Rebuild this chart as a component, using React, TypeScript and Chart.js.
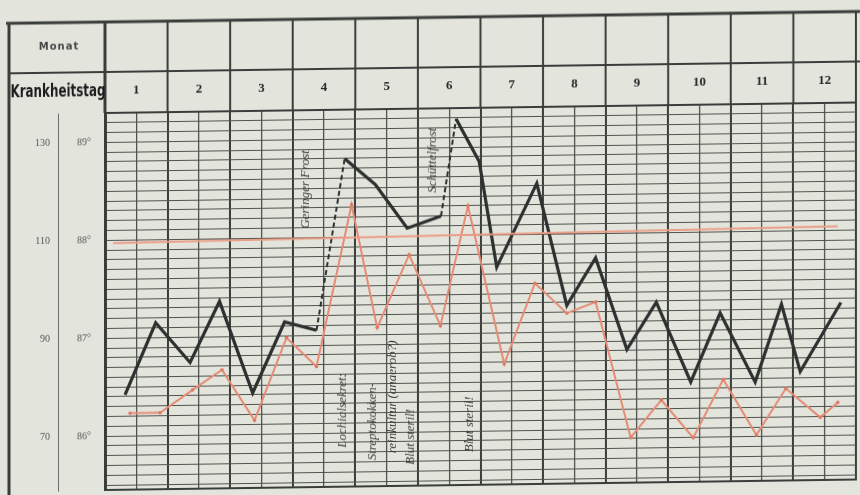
import React, { useEffect, useRef } from 'react';
import { Chart, registerables } from 'chart.js';

Chart.register(...registerables);

// ---------- data ----------
const DAYS = ['1', '2', '3', '4', '5', '6', '7', '8', '9', '10', '11', '12'];
const TEMP_LABEL_VALUES = [86, 87, 88, 89];
const PULSE_TICKS = [70, 90, 110, 130];
const TEMP_MIN = 85.45;
const TEMP_MAX = 89.3;
const PULSE_MIN = 59;
const PULSE_MAX = 136;

// temperature curve (black): time in days, value in degrees
const TEMP_DAY = [0.32, 0.81, 1.36, 1.83, 2.36, 2.87, 3.38, 3.83, 4.32, 4.83, 5.37, 5.61, 5.98, 6.26, 6.9, 7.38, 7.84, 8.34, 8.81, 9.36, 9.83, 10.39, 10.81, 11.11, 11.76];
const TEMP_VAL = [86.42, 87.15, 86.74, 87.36, 86.42, 87.14, 87.05, 88.8, 88.53, 88.08, 88.2, 89.19, 88.75, 87.67, 88.52, 87.27, 87.75, 86.81, 87.29, 86.47, 87.17, 86.46, 87.25, 86.56, 87.26];
const TEMP_DASHED_AFTER = [6, 10];

// pulse curve (red): time in days, beats per minute
const PULSE_DAY = [0.4, 0.88, 1.4, 1.87, 2.39, 2.9, 3.38, 3.94, 4.35, 4.86, 5.36, 5.8, 6.38, 6.87, 7.38, 7.84, 8.4, 8.89, 9.4, 9.88, 10.41, 10.88, 11.43, 11.71];
const PULSE_VAL = [74.6, 74.6, 79.2, 83.2, 72.8, 89.6, 83.6, 116.6, 91.4, 106.2, 91.6, 116, 83.6, 100, 93.8, 96, 68.2, 75.8, 68, 79.8, 68.4, 77.8, 71.8, 74.8];

// red reference line
const REF_DAY = [0.13, 11.71];
const REF_VAL = [87.97, 88.04];

// handwritten notes (rotated), anchored in data units
const NOTE_TEXT = ['Geringer Frost', 'Schüttelfrost', 'Lochialsekret:', 'Streptokokken-', 'reinkultur (anaerob?)', 'Blut steril!', 'Blut steril!'];
const NOTE_DAY = [3.2, 5.23, 3.79, 4.27, 4.59, 4.89, 5.82];
const NOTE_TEMP = [88.49, 88.77, 86.23, 86.11, 86.36, 85.95, 86.07];

// ---------- styles ----------
const PAPER = '#e3e5dd';
const INK = '#3a3e3b';
const INK2 = '#4f534f';
const BLACK = '#2c302e';
const RED = '#e58b74';
const REDREF = '#eb9e88';

const GRID_DAYS = Array.from({ length: 25 }, (_, i) => i * 0.5);
const GRID_TEMPS = Array.from({ length: 39 }, (_, i) => Math.round((85.5 + i * 0.1) * 10) / 10);

const framePlugin = {
  id: 'frame',
  beforeDraw(chart: any) {
    const { ctx, width, height } = chart;
    ctx.save();
    ctx.fillStyle = PAPER;
    ctx.fillRect(0, 0, width, height);
    ctx.restore();
  },
  beforeDatasetsDraw(chart: any) {
    const { ctx } = chart;
    const xs = chart.scales.x;
    const ys = chart.scales.y;
    ctx.save();
    ctx.fillStyle = '#3b3b3b';
    ctx.font = 'italic 13px "Liberation Serif"';
    ctx.textAlign = 'center';
    ctx.textBaseline = 'middle';
    NOTE_TEXT.forEach((t, i) => {
      const px = xs.getPixelForValue(NOTE_DAY[i]);
      const py = ys.getPixelForValue(NOTE_TEMP[i]);
      ctx.save();
      ctx.translate(px, py);
      ctx.rotate(-Math.PI / 2);
      ctx.fillText(t, 0, 0);
      ctx.restore();
    });
    ctx.restore();
  },
  afterDraw(chart: any) {
    const { ctx, width, height, chartArea } = chart;
    const xs = chart.scales.x;
    const top = 22;
    const mid = 72;
    const left = 9;
    const line = (x1: number, y1: number, x2: number, y2: number) => {
      ctx.beginPath();
      ctx.moveTo(x1, y1);
      ctx.lineTo(x2, y2);
      ctx.stroke();
    };
    ctx.save();
    ctx.strokeStyle = INK;
    ctx.lineWidth = 3;
    line(6, top, width, top);
    line(left, top, left, height);
    ctx.lineWidth = 2;
    line(left, mid, width, mid);
    for (let d = 0; d <= 12; d++) {
      const px = xs.getPixelForValue(d);
      ctx.lineWidth = d === 0 ? 3 : 2;
      line(px, top, px, chartArea.top);
    }
    // header texts
    ctx.fillStyle = '#484848';
    ctx.textAlign = 'center';
    ctx.textBaseline = 'middle';
    ctx.font = 'bold 10px "DejaVu Sans"';
    try { (ctx as any).letterSpacing = '1px'; } catch (e) {}
    ctx.fillText('Monat', (left + chartArea.left) / 2 + 2, (top + mid) / 2 - 1);
    try { (ctx as any).letterSpacing = '0px'; } catch (e) {}
    ctx.fillStyle = '#1e1e1e';
    ctx.font = 'bold 17px "DejaVu Sans"';
    const w = ctx.measureText('Krankheitstag').width;
    const s = Math.min(1, 95 / w);
    ctx.translate((left + chartArea.left) / 2 + 1, (mid + chartArea.top) / 2 - 1);
    ctx.scale(s, 1);
    ctx.fillText('Krankheitstag', 0, 0);
    ctx.restore();
  },
};

const noPad = (s: any) => {
  s.paddingTop = 0;
  s.paddingBottom = 0;
};

export default function App() {
  const ref = useRef<HTMLCanvasElement | null>(null);

  useEffect(() => {
    if (!ref.current) return;
    const chart = new Chart(ref.current, {
      type: 'line',
      data: {
        datasets: [
          {
            label: 'Referenz',
            data: REF_DAY.map((d, i) => ({ x: d, y: REF_VAL[i] })),
            xAxisID: 'x',
            yAxisID: 'y',
            borderColor: REDREF,
            borderWidth: 2,
            pointRadius: 0,
          },
          {
            label: 'Puls',
            data: PULSE_DAY.map((d, i) => ({ x: d, y: PULSE_VAL[i] })),
            xAxisID: 'x',
            yAxisID: 'yP',
            borderColor: RED,
            borderWidth: 2,
            pointRadius: 1.8,
            pointBackgroundColor: '#df7a63',
            pointBorderWidth: 0,
          },
          {
            label: 'Temperatur',
            data: TEMP_DAY.map((d, i) => ({ x: d, y: TEMP_VAL[i] })),
            xAxisID: 'x',
            yAxisID: 'y',
            borderColor: BLACK,
            borderWidth: 3.2,
            pointRadius: 0,
            segment: {
              borderDash: (c: any) => (TEMP_DASHED_AFTER.includes(c.p0DataIndex) ? [5, 3] : undefined),
              borderWidth: (c: any) => (TEMP_DASHED_AFTER.includes(c.p0DataIndex) ? 2 : undefined),
            },
          } as any,
        ],
      },
      options: {
        responsive: false,
        animation: false,
        layout: { padding: { top: 72, left: 10, right: 2, bottom: 5 } },
        plugins: { legend: { display: false }, tooltip: { enabled: false } },
        scales: {
          x: {
            type: 'linear',
            position: 'bottom',
            min: 0,
            max: 12,
            afterBuildTicks: (s: any) => {
              s.ticks = GRID_DAYS.map((v) => ({ value: v }));
            },
            afterFit: (s: any) => {
              s.height = 0;
            },
            ticks: { display: false, autoSkip: false },
            grid: {
              drawTicks: false,
              color: (c: any) => (c.tick && Number.isInteger(c.tick.value) ? INK : INK2),
              lineWidth: (c: any) => (c.tick && Number.isInteger(c.tick.value) ? 2 : 1.3),
            },
            border: { display: true, width: 2, color: INK },
          },
          xTop: {
            type: 'category',
            position: 'top',
            labels: DAYS,
            offset: true,
            grid: { display: false, drawTicks: false, offset: true },
            border: { display: true, width: 2, color: INK },
            ticks: {
              padding: 15,
              color: '#262626',
              font: { family: '"Liberation Serif"', size: 13, weight: 'bold' },
            },
            afterFit: (s: any) => {
              s.height = 41;
            },
          },
          y: {
            type: 'linear',
            position: 'left',
            weight: 0,
            min: TEMP_MIN,
            max: TEMP_MAX,
            afterBuildTicks: (s: any) => {
              s.ticks = GRID_TEMPS.map((v) => ({ value: v }));
            },
            afterFit: (s: any) => {
              s.width = 47;
              noPad(s);
            },
            ticks: {
              autoSkip: false,
              padding: 14,
              color: '#555',
              font: { family: '"Liberation Serif"', size: 10 },
              callback: (v: any) => {
                const n = Number(v);
                const r = Math.round(n);
                return TEMP_LABEL_VALUES.includes(r) && Math.abs(n - r) < 1e-6 ? `${r}°` : '';
              },
            },
            grid: { drawTicks: false, color: INK2, lineWidth: 1 },
            border: { display: true, width: 3, color: INK },
          },
          yP: {
            type: 'linear',
            position: 'left',
            weight: 1,
            min: PULSE_MIN,
            max: PULSE_MAX,
            afterBuildTicks: (s: any) => {
              s.ticks = PULSE_TICKS.map((v) => ({ value: v }));
            },
            afterFit: (s: any) => {
              s.width = 48;
              noPad(s);
            },
            ticks: {
              autoSkip: false,
              padding: 8,
              color: '#555',
              font: { family: '"Liberation Serif"', size: 10 },
            },
            grid: { display: false, drawTicks: false },
            border: { display: true, width: 1, color: '#6a6d69' },
          },
        },
      } as any,
      plugins: [framePlugin],
    });
    return () => chart.destroy();
  }, []);

  return (
    <div
      style={{
        position: 'fixed',
        left: 0,
        top: 0,
        width: 860,
        height: 495,
        overflow: 'hidden',
        background: PAPER,
      }}
    >
      <canvas
        ref={ref}
        width={860}
        height={495}
        style={{ display: 'block', transform: 'skewY(-0.8deg)', transformOrigin: '105px 0px' }}
      />
    </div>
  );
}
